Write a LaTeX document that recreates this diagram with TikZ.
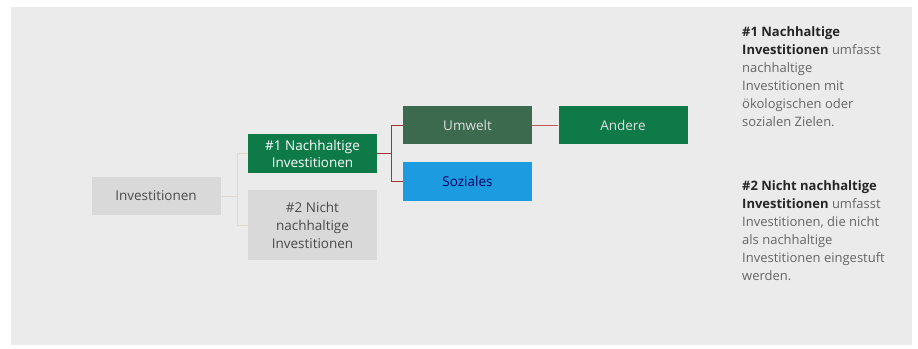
\documentclass[tikz,border=0pt]{standalone}
\usepackage{fontspec}
\setmainfont{Open Sans}
\definecolor{panel}{HTML}{EBEBEB}
\definecolor{boxgray}{HTML}{D9D9D9}
\definecolor{green1}{HTML}{0E7A48}
\definecolor{green2}{HTML}{3C6A4E}
\definecolor{blue1}{HTML}{1C9BE0}
\definecolor{darkred}{HTML}{9E3434}
\definecolor{lightred}{HTML}{C05858}
\definecolor{faint}{HTML}{E2D8C8}
\definecolor{txtgray}{HTML}{4A4A4A}
\definecolor{notegray}{HTML}{666666}
\begin{document}
\begin{tikzpicture}[x=1pt,y=-1pt,
  box/.style={rectangle, minimum width=129pt, inner sep=0pt, align=center, font=\fontsize{13.5}{18}\selectfont},
  graybox/.style={box, fill=boxgray, text=txtgray},
  link/.style={draw=darkred, line width=1pt},
  faintlink/.style={draw=faint, line width=1pt},
  note/.style={anchor=north west, align=left, inner sep=0pt, text=notegray, font=\fontsize{13}{18}\selectfont}]
\useasboundingbox (0,0) rectangle (918,348);
\fill[white] (0,0) rectangle (918,348);
\fill[panel] (11,7) rectangle (912,345);
% nodes
\node[graybox, minimum height=38pt] (inv) at (156,196) {Investitionen};
\node[box, fill=green1, text=white, minimum height=39pt, font=\fontsize{13.5}{17}\selectfont] (n1) at (312.5,153.5) {\#1 Nachhaltige\\Investitionen};
\node[graybox, minimum height=70pt] (n2) at (312.5,225) {\#2 Nicht\\nachhaltige\\Investitionen};
\node[box, fill=green2, text=white!88!black, minimum height=38pt] (umw) at (467.5,125) {Umwelt};
\node[box, fill=blue1, text=blue!40!black, minimum height=39pt] (soz) at (467.5,181.5) {Soziales};
\node[box, fill=green1, text=white!88!black, minimum height=38pt] (and) at (623,125) {Andere};
% connectors
\coordinate (j0) at (237,196);
\draw[faintlink] (inv.east) -- (j0) |- (n1.west);
\draw[faintlink] (j0) |- (n2.west);
\coordinate (j1) at (391,153.5);
\draw[link] (n1.east) -- (j1) |- (umw.west);
\draw[link] (j1) |- (soz.west);
\draw[link, draw=lightred] (umw.east) -- (and.west);
% notes
\node[note] (t1) at (742,26) {\textbf{\color{black!85}\#1 Nachhaltige}\\\textbf{\color{black!85}Investitionen} umfasst\\nachhaltige\\Investitionen mit\\ökologischen oder\\sozialen Zielen.};
\node[note] (t2) at (742,180) {\textbf{\color{black!85}\#2 Nicht nachhaltige}\\\textbf{\color{black!85}Investitionen} umfasst\\Investitionen, die nicht\\als nachhaltige\\Investitionen eingestuft\\werden.};
\end{tikzpicture}
\end{document}
